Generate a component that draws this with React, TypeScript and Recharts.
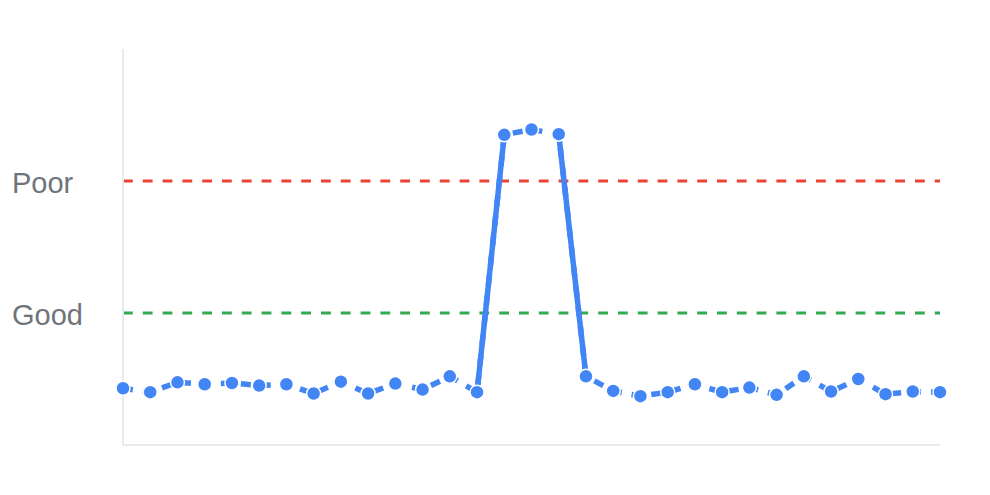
import React from "react";
import { LineChart, Line, XAxis, YAxis, ReferenceLine } from "recharts";

// one reading per sample, same units as the thresholds below
const samples = [
  43, 40, 47.5, 46, 47, 45, 46, 39, 48, 39, 46.5, 42, 52, 40,
  235, 239, 235.5,
  52, 41, 37, 40, 46, 40, 43.5, 38, 52, 40.5, 50, 38.5, 40.5, 40,
];
// indices whose connecting segments are drawn solid (the jump up and back down)
const solidIdx = [13, 14, 16, 17];
const GOOD = 100;
const POOR = 200;
const thresholdTicks = [GOOD, POOR];
const thresholdLabels: Record<number, string> = { [GOOD]: "Good", [POOR]: "Poor" };

const BLUE = "#4285f4";
const AXIS = "#e8eaed";

const data = samples.map((v, i) => ({
  i,
  v,
  s: solidIdx.includes(i) ? v : null,
}));

const LabelTick = ({ y, payload }: { y?: number; payload?: { value: number } }) => (
  <text x={12} y={(y ?? 0) + 12} fill="#6f747b" fontSize={29} fontFamily="'Liberation Sans', Arial, sans-serif">
    {thresholdLabels[payload?.value ?? 0]}
  </text>
);

export default function App() {
  return (
    <div style={{ position: "absolute", left: 0, top: 0, width: 990, height: 495, background: "#fff" }}>
      <LineChart width={990} height={495} data={data} margin={{ top: 49, right: 50, bottom: 48, left: 0 }}>
        <XAxis dataKey="i" tick={false} tickLine={false} height={2} axisLine={{ stroke: AXIS, strokeWidth: 2 }} />
        <YAxis
          width={123}
          domain={[0, 300]}
          ticks={thresholdTicks}
          tick={<LabelTick />}
          tickLine={false}
          axisLine={{ stroke: AXIS, strokeWidth: 2 }}
        />
        <ReferenceLine y={POOR} stroke="#ea4335" strokeWidth={3} strokeDasharray="9.8 10" />
        <ReferenceLine y={GOOD} stroke="#34a853" strokeWidth={3} strokeDasharray="9.8 10" />
        <Line dataKey="s" stroke={BLUE} strokeWidth={5.5} dot={false} activeDot={false} isAnimationActive={false} connectNulls={false} />
        <Line
          dataKey="v"
          stroke={BLUE}
          strokeWidth={5.5}
          strokeDasharray="10 10"
          dot={{ r: 7, fill: BLUE, stroke: "#fff", strokeWidth: 1.5, strokeDasharray: "0" }}
          activeDot={false}
          isAnimationActive={false}
        />
      </LineChart>
    </div>
  );
}
